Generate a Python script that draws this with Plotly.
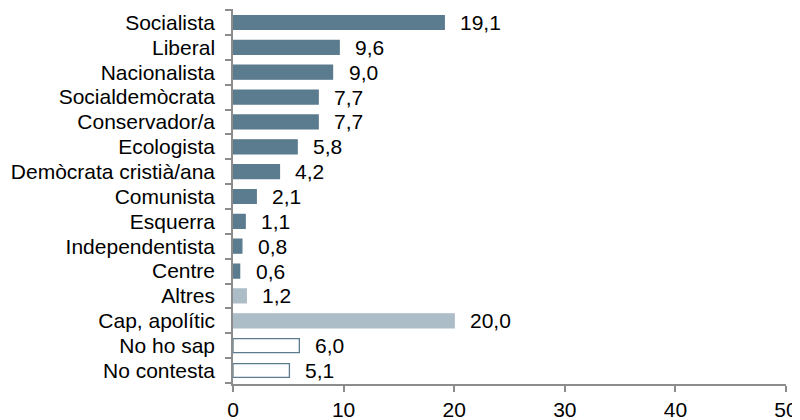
import plotly.graph_objects as go

categories = ["Socialista", "Liberal", "Nacionalista", "Socialdemòcrata", "Conservador/a",
              "Ecologista", "Demòcrata cristià/ana", "Comunista", "Esquerra",
              "Independentista", "Centre", "Altres", "Cap, apolític", "No ho sap", "No contesta"]
values = [19.1, 9.6, 9.0, 7.7, 7.7, 5.8, 4.2, 2.1, 1.1, 0.8, 0.6, 1.2, 20.0, 6.0, 5.1]
groups = ["party"] * 11 + ["other", "other", "nsnc", "nsnc"]

dark = "#5B7B8E"
light = "#ADBDC8"
fill_map = {"party": dark, "other": light, "nsnc": "white"}
line_map = {"party": dark, "other": light, "nsnc": dark}

labels = [f"{v:.1f}".replace(".", ",") for v in values]

FS = 21
fig = go.Figure()
fig.add_trace(go.Bar(
    y=categories, x=values, orientation="h", width=0.56,
    marker=dict(color=[fill_map[g] for g in groups],
                line=dict(color=[line_map[g] for g in groups], width=1.3)),
    hoverinfo="skip",
))
for c, v, t in zip(categories, values, labels):
    fig.add_annotation(x=v, y=c, text=t, xanchor="left", xshift=14, showarrow=False,
                       font=dict(size=FS, color="black", family="Liberation Sans, Arial"))

axcol = "#8C8C8C"
# page body has an 8px default margin, so the figure is offset by (8, 8)
fig.update_layout(
    width=792, height=412,
    margin=dict(l=225, r=14, t=1, b=36, pad=0),
    paper_bgcolor="white", plot_bgcolor="white",
    showlegend=False,
    font=dict(family="Liberation Sans, Arial", size=FS, color="black"),
    xaxis=dict(range=[0, 50], dtick=10, showgrid=False, zeroline=False,
               showline=True, linecolor=axcol, linewidth=1.5,
               ticks="outside", ticklen=6, tickcolor=axcol, tickwidth=1.5,
               tickfont=dict(size=FS), automargin=False, ticklabelstandoff=0),
    yaxis=dict(autorange="reversed", type="category", showgrid=False, zeroline=False,
               showline=True, linecolor=axcol, linewidth=1.5,
               ticks="outside", ticklen=6, tickcolor=axcol, tickwidth=1.5,
               tickmode="array", tickvals=categories,
               tickson="boundaries", tickfont=dict(size=FS), ticklabelstandoff=12,
               automargin=False),
)

fig.write_html("out.html")
